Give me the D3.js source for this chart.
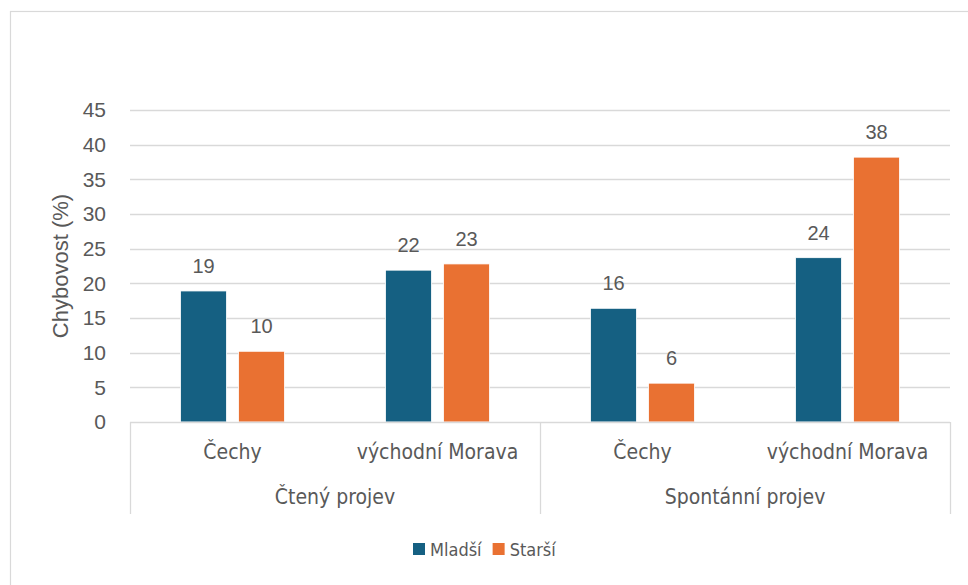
<!DOCTYPE html>
<html>
<head>
<meta charset="utf-8">
<script src="https://cdn.jsdelivr.net/npm/d3@7"></script>
<style>
  body { margin: 0; background: #fff; }
  text { fill: #595959; }
</style>
</head>
<body>
<script>
// data
var groups = ["Čtený projev", "Spontánní projev"];
var regions = ["Čechy", "východní Morava"];
var series = ["Mladší", "Starší"];
var mladsi = [18.9, 21.9, 16.4, 23.7];
var starsi = [10.2, 22.8, 5.6, 38.2];
var yTicks = [0, 5, 10, 15, 20, 25, 30, 35, 40, 45];
var colors = ["#156082", "#E97132"];

var W = 968, H = 585;
var margin = { top: 110, right: 18, bottom: 163, left: 130 };
var width = W - margin.left - margin.right,
	height = H - margin.top - margin.bottom;

var narrow = "'Liberation Sans Narrow', 'DejaVu Sans Condensed', 'Liberation Sans', sans-serif";
var plain = "'Liberation Sans', Arial, sans-serif";

// build one row per bar slot
var cats = [];
groups.forEach(function (g, gi) {
	regions.forEach(function (r, ri) {
		var k = gi * regions.length + ri;
		cats.push({ key: g + "|" + r, group: g, region: r, values: [mladsi[k], starsi[k]] });
	});
});

var svg = d3.select("body").append("svg")
	.attr("width", W)
	.attr("height", H);

// chart frame
svg.append("rect")
	.attr("x", 10.5).attr("y", 11.5)
	.attr("width", W + 10).attr("height", H + 10)
	.attr("fill", "none")
	.attr("stroke", "#d9d9d9")
	.attr("stroke-width", 1.2);

var g = svg.append("g")
	.attr("transform", "translate(" + margin.left + "," + margin.top + ")");

var x = d3.scaleBand()
	.domain(cats.map(function (d) { return d.key; }))
	.range([0, width]);

var xGroup = d3.scaleBand()
	.domain(groups)
	.range([0, width]);

var xInner = d3.scaleBand()
	.domain(series)
	.range([-52, 52])
	.paddingInner(12 / 58);

var y = d3.scaleLinear()
	.domain([0, 45])
	.range([height, 0]);

// gridlines
g.append("g")
	.selectAll("line")
	.data(yTicks.filter(function (t) { return t > 0; }))
	.enter().append("line")
	.attr("x1", 0).attr("x2", width)
	.attr("y1", function (d) { return Math.round(y(d)) + 0.5; })
	.attr("y2", function (d) { return Math.round(y(d)) + 0.5; })
	.attr("stroke", "#d9d9d9")
	.attr("stroke-width", 1.3);

// y axis labels
var yAxis = g.append("g")
	.call(d3.axisLeft(y).tickValues(yTicks).tickSize(0).tickPadding(24));
yAxis.select(".domain").remove();
yAxis.selectAll("text")
	.style("font-family", plain)
	.style("font-size", "21px")
	.attr("fill", "#595959");

// bars
var cat = g.selectAll(".cat")
	.data(cats)
	.enter().append("g")
	.attr("class", "cat")
	.attr("transform", function (d) { return "translate(" + (x(d.key) + x.bandwidth() / 2) + ",0)"; });

cat.selectAll("rect")
	.data(function (d) { return d.values.map(function (v, i) { return { s: series[i], v: v, i: i }; }); })
	.enter().append("rect")
	.attr("x", function (d) { return xInner(d.s); })
	.attr("width", xInner.bandwidth())
	.attr("y", function (d) { return y(d.v); })
	.attr("height", function (d) { return height - y(d.v); })
	.attr("fill", function (d) { return colors[d.i]; })
	.attr("stroke", "#fff")
	.attr("stroke-width", 0.8);

cat.selectAll(".lbl")
	.data(function (d) { return d.values.map(function (v, i) { return { s: series[i], v: v }; }); })
	.enter().append("text")
	.attr("class", "lbl")
	.attr("x", function (d) { return xInner(d.s) + xInner.bandwidth() / 2; })
	.attr("y", function (d) { return y(d.v) - 18; })
	.attr("text-anchor", "middle")
	.style("font-family", plain)
	.style("font-size", "20px")
	.text(function (d) { return Math.round(d.v); });

// category axis
g.append("line")
	.attr("x1", 0).attr("x2", width)
	.attr("y1", height + 0.5).attr("y2", height + 0.5)
	.attr("stroke", "#d9d9d9")
	.attr("stroke-width", 1.3);

var seps = [0].concat(groups.map(function (d) { return xGroup(d) + xGroup.bandwidth(); }));
g.selectAll(".sep")
	.data(seps)
	.enter().append("line")
	.attr("class", "sep")
	.attr("x1", function (d) { return Math.round(d) + 0.5; })
	.attr("x2", function (d) { return Math.round(d) + 0.5; })
	.attr("y1", height)
	.attr("y2", height + 92)
	.attr("stroke", "#d9d9d9")
	.attr("stroke-width", 1.3);

g.selectAll(".reg")
	.data(cats)
	.enter().append("text")
	.attr("class", "reg")
	.attr("x", function (d) { return x(d.key) + x.bandwidth() / 2; })
	.attr("y", height + 37)
	.attr("text-anchor", "middle")
	.style("font-family", narrow)
	.style("font-size", "21px")
	.text(function (d) { return d.region; });

g.selectAll(".grp")
	.data(groups)
	.enter().append("text")
	.attr("class", "grp")
	.attr("x", function (d) { return xGroup(d) + xGroup.bandwidth() / 2; })
	.attr("y", height + 82)
	.attr("text-anchor", "middle")
	.style("font-family", narrow)
	.style("font-size", "21px")
	.text(function (d) { return d; });

// y title
svg.append("text")
	.attr("transform", "translate(68," + (margin.top + height / 2) + ") rotate(-90)")
	.attr("text-anchor", "middle")
	.style("font-family", plain)
	.style("font-size", "22px")
	.text("Chybovost (%)");

// legend
var legend = svg.append("g")
	.attr("transform", "translate(413,543)");
var lx = 0;
series.forEach(function (s, i) {
	legend.append("rect")
		.attr("x", lx).attr("y", 0)
		.attr("width", 12).attr("height", 12)
		.attr("fill", colors[i]);
	var t = legend.append("text")
		.attr("x", lx + 17)
		.attr("y", 13)
		.style("font-family", narrow)
		.style("font-size", "18px")
		.text(s);
	lx += 17 + t.node().getComputedTextLength() + 11;
});
</script>
</body>
</html>
